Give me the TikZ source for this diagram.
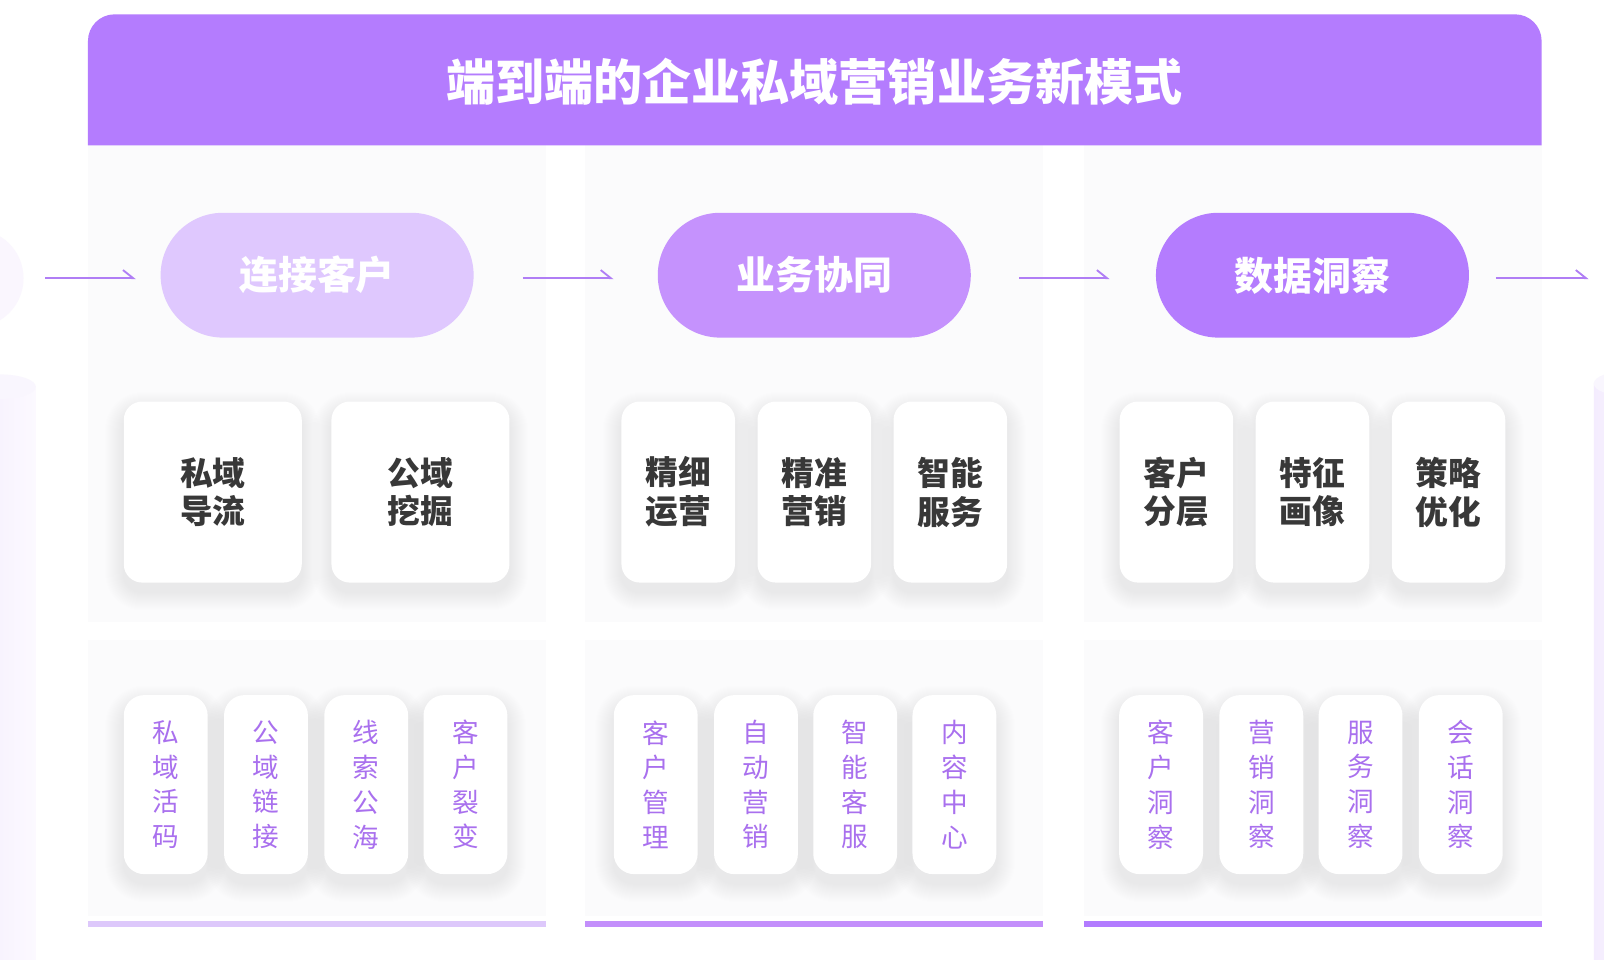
\documentclass[tikz,border=0pt]{standalone}
\usepackage{fontspec}
\newfontfamily\cjk{Noto Sans CJK SC}
\usetikzlibrary{arrows.meta,calc}
\pgfdeclarelayer{back}
\pgfdeclarelayer{shadow}
\pgfsetlayers{back,shadow,main}
\definecolor{hdr}{HTML}{B47CFE}
\definecolor{pillA}{HTML}{DFC8FE}
\definecolor{pillB}{HTML}{C592FD}
\definecolor{pillC}{HTML}{B47CFE}
\definecolor{barA}{HTML}{DDC8FB}
\definecolor{barB}{HTML}{C38FFB}
\definecolor{barC}{HTML}{B27BFF}
\definecolor{arr}{HTML}{B07EF5}
\definecolor{smalltxt}{HTML}{A970EE}
\definecolor{midtxt}{HTML}{383838}
\definecolor{panel}{HTML}{FBFBFC}
\definecolor{deco}{HTML}{F4ECFE}
\tikzset{
  pill/.style={rounded corners=61pt, minimum width=306pt, minimum height=122pt, inner sep=0pt,
    text=white, font=\cjk\bfseries\fontsize{38}{42}\selectfont},
  midcard/.style={fill=white, rounded corners=18pt, minimum height=177pt, inner sep=0pt,
    align=center, text=midtxt, font=\cjk\bfseries\fontsize{32}{38}\selectfont},
  smallcard/.style={fill=white, rounded corners=20pt, minimum width=82pt, minimum height=175pt, inner sep=0pt,
    align=center, text=smalltxt, font=\cjk\fontsize{26}{34}\selectfont},
  flow/.style={draw=arr, line width=1.8pt, -{Straight Barb[harpoon, length=10pt, width=16pt, line width=1.8pt]}},
}
\newcommand\softshadow[2]{%
  \begin{pgfonlayer}{shadow}
  \foreach \i in {1,...,18}{
    \fill[black, opacity=0.0032, rounded corners=#2+\i]
      ($(#1.south west)+(-\i,\i+9)$) rectangle ($(#1.north east)+(\i,-\i+9)$);
  }
  \end{pgfonlayer}}
\begin{document}
\begin{tikzpicture}[x=1pt,y=-1pt]
\useasboundingbox (0,0) rectangle (1568,938);
\begin{pgfonlayer}{back}
\fill[white] (0,0) rectangle (1568,938);
% side decorations
\fill[deco!45] (-25,272) circle (48);
\shade[left color=deco, right color=deco!30] (-40,378) rectangle (35,938);
\fill[deco!50] (0,378) ellipse (35 and 12);
\shade[left color=deco, right color=deco!30] (1558,375) rectangle (1610,938);
\fill[deco!50] (1590,375) ellipse (32 and 12);
% panels
\foreach \a/\b in {86/534, 572/1020, 1060/1507}{
  \fill[panel] (\a,142) rectangle (\b,608);
  \fill[panel] (\a,626) rectangle (\b,895);
}
\end{pgfonlayer}
% header
\fill[hdr] (86,142) [rounded corners=26pt] -- (86,14) -- (1507,14) [sharp corners] -- (1507,142) -- cycle;
\node[text=white, font=\cjk\bfseries\fontsize{48}{52}\selectfont] (title) at (796,80) {端到端的企业私域营销业务新模式};
% bottom bars
\fill[barA] (86,900) rectangle (534,906);
\fill[barB] (572,900) rectangle (1020,906);
\fill[barC] (1060,900) rectangle (1507,906);
% pills
\node[pill, fill=pillA] (p1) at (310,269) {连接客户};
\node[pill, fill=pillB] (p2) at (796,269) {业务协同};
\node[pill, fill=pillC] (p3) at (1283,269) {数据洞察};
\coordinate (in) at (44,272);
\coordinate (out) at (1553,272);
\draw[flow] (in) -- ($(p1.west)+(-24,3)$);
\draw[flow] ($(p1.east)+(48,3)$) -- ($(p2.west)+(-43,3)$);
\draw[flow] ($(p2.east)+(47,3)$) -- ($(p3.west)+(-45,3)$);
\draw[flow] ($(p3.east)+(26,3)$) -- (out);
% mid cards
\node[midcard, minimum width=174pt] (m11) at (208,481) {私域\\导流};
\node[midcard, minimum width=174pt] (m12) at (411,481) {公域\\挖掘};
\node[midcard, minimum width=111pt] (m21) at (663,481) {精细\\运营};
\node[midcard, minimum width=111pt] (m22) at (796,481) {精准\\营销};
\node[midcard, minimum width=111pt] (m23) at (929,481) {智能\\服务};
\node[midcard, minimum width=111pt] (m31) at (1150,481) {客户\\分层};
\node[midcard, minimum width=111pt] (m32) at (1283,481) {特征\\画像};
\node[midcard, minimum width=111pt] (m33) at (1416,481) {策略\\优化};
\foreach \n in {m11,m12,m21,m22,m23,m31,m32,m33}{\softshadow{\n}{18}}
% small cards
\node[smallcard] (s11) at (162,767) {私\\域\\活\\码};
\node[smallcard] (s12) at (260,767) {公\\域\\链\\接};
\node[smallcard] (s13) at (358,767) {线\\索\\公\\海};
\node[smallcard] (s14) at (455,767) {客\\户\\裂\\变};
\node[smallcard] (s21) at (641,767) {客\\户\\管\\理};
\node[smallcard] (s22) at (739,767) {自\\动\\营\\销};
\node[smallcard] (s23) at (836,767) {智\\能\\客\\服};
\node[smallcard] (s24) at (933,767) {内\\容\\中\\心};
\node[smallcard] (s31) at (1135,767) {客\\户\\洞\\察};
\node[smallcard] (s32) at (1233,767) {营\\销\\洞\\察};
\node[smallcard] (s33) at (1330,767) {服\\务\\洞\\察};
\node[smallcard] (s34) at (1428,767) {会\\话\\洞\\察};
\foreach \n in {s11,s12,s13,s14,s21,s22,s23,s24,s31,s32,s33,s34}{\softshadow{\n}{20}}
\end{tikzpicture}
\end{document}
